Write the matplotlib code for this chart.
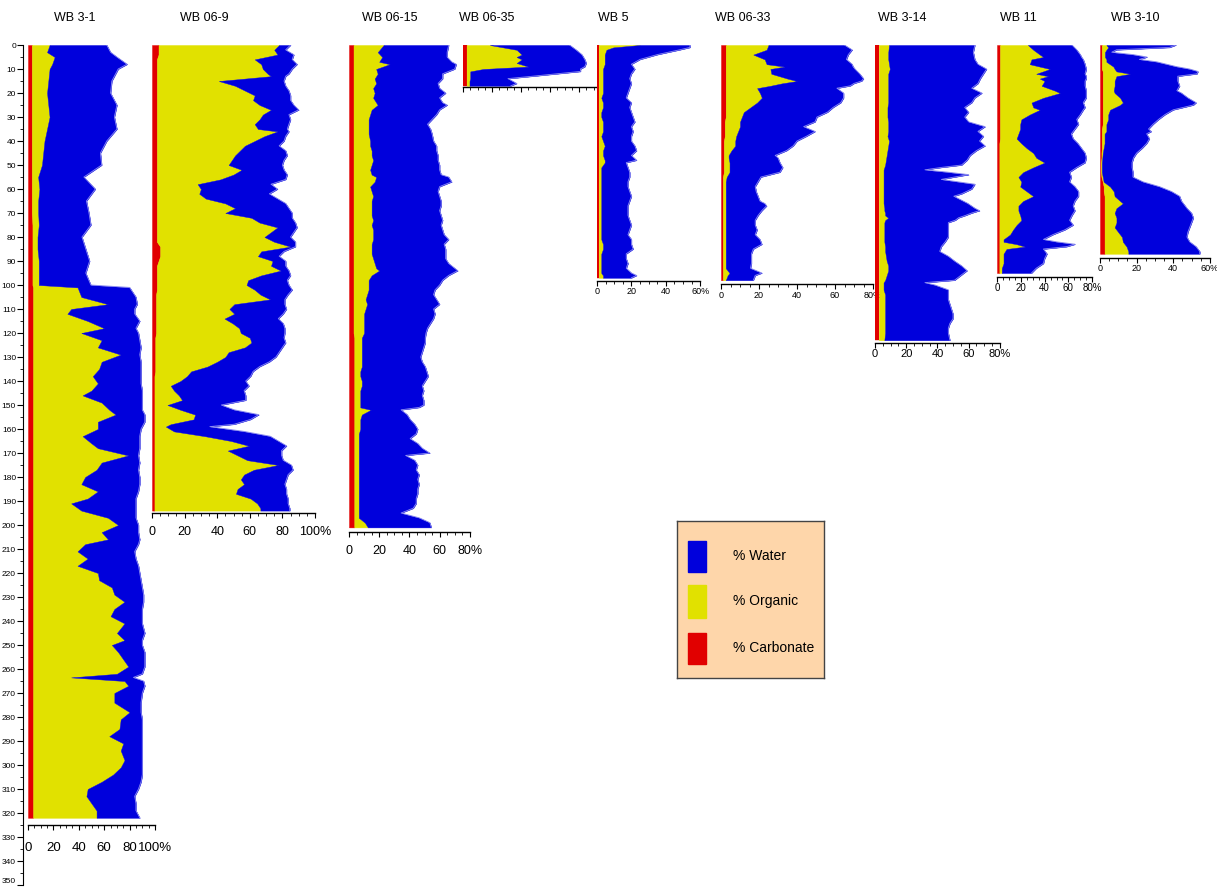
import numpy as np
import matplotlib
matplotlib.use("Agg")
import matplotlib.pyplot as plt
from matplotlib.patches import Rectangle
from matplotlib.transforms import ScaledTranslation

plt.rcParams['font.family'] = ['Liberation Sans', 'DejaVu Sans']

W, H = 1217, 888
BLUE = '#0000dc'
YELLOW = '#e1e100'
RED = '#e10000'
RIM = '#8c8cf0'
PEACH = '#fed6aa'

# ---- core data: depth (cm), % carbonate, % organic, % water ----
wb31_depth = [0, 3, 5, 8, 10, 15, 20, 25, 30, 35,
              40, 45, 50, 55, 60, 65, 70, 75, 80, 85,
              90, 95, 100, 101, 105, 108, 110, 112, 115, 118,
              120, 123, 126, 129, 132, 135, 138, 141, 144, 146,
              149, 152, 154, 157, 160, 163, 166, 168, 171, 174,
              177, 180, 183, 186, 189, 191, 194, 197, 200, 203,
              206, 208, 211, 214, 217, 220, 223, 226, 229, 232,
              235, 238, 241, 245, 248, 250, 253, 256, 259, 262,
              263.5, 265, 267, 270, 274, 278, 281, 285, 288, 291,
              294, 298, 301, 304, 307, 310, 313, 316, 319, 322]
wb31_carb = [3, 3, 3, 3, 3, 3, 3, 3, 3, 3,
             3, 3, 3, 3, 3, 3, 3, 3.5, 3.5, 3.5,
             3.5, 3.5, 3.5, 4, 4, 4, 4, 4, 4, 4,
             4, 4, 4, 4, 4, 4, 4, 4, 4, 4,
             4, 4, 4, 4, 4, 4, 4, 4, 4, 4,
             4, 4, 4, 4, 4, 4, 4, 4, 4, 4,
             4, 4, 4, 4, 4, 4, 4, 4, 4, 4,
             4, 4, 4, 4, 4, 4, 4, 4, 4, 4,
             4, 4, 4, 4, 4, 4, 4, 4, 4, 4,
             4, 4, 4, 4, 4, 4, 4, 4, 4, 4]
wb31_org = [14, 12, 18, 16, 14, 13, 12, 13, 14, 12,
            10, 9, 8, 5, 6, 5, 5, 5, 4, 4,
            5, 5, 5, 35, 38, 59, 30, 27, 43, 56,
            38, 54, 51, 69, 54, 52, 47, 51, 46, 39,
            54, 60, 65, 51, 51, 39, 46, 51, 75, 54,
            50, 41, 38, 51, 43, 30, 38, 59, 67, 54,
            59, 41, 35, 43, 35, 51, 52, 62, 64, 72,
            64, 61, 72, 66, 72, 62, 67, 71, 75, 66,
            30, 72, 75, 64, 64, 76, 69, 68, 60, 71,
            69, 72, 69, 63, 54, 43, 42, 46, 50, 50]
wb31_water = [45, 50, 49, 59, 54, 50, 50, 54, 51, 55,
              49, 45, 47, 36, 44, 38, 40, 41, 35, 38,
              40, 37, 41, 41, 43, 23, 50, 53, 41, 25,
              45, 30, 34, 15, 31, 33, 38, 34, 40, 47,
              32, 26, 23, 37, 34, 45, 38, 33, 8, 30,
              33, 43, 46, 32, 38, 51, 43, 22, 16, 29,
              25, 42, 45, 38, 48, 33, 33, 24, 23, 15,
              22, 25, 14, 22, 14, 24, 21, 17, 13, 20,
              49, 15, 13, 22, 21, 9, 17, 18, 26, 15,
              17, 14, 17, 23, 31, 40, 38, 35, 31, 34]

wb069_depth = [0, 2, 4, 6, 8, 10, 12, 13, 15, 17,
               19, 21, 23, 25, 27, 29, 31, 33, 35, 36,
               38, 40, 42, 44, 46, 48, 50, 52, 54, 56,
               58, 60, 62, 64, 66, 68, 70, 72, 74, 76,
               78, 80, 82, 84, 86, 88, 90, 92, 94, 96,
               98, 100, 102, 104, 106, 108, 110, 112, 114, 116,
               118, 120, 122, 124, 126, 128, 130, 132, 134, 136,
               138, 140, 142, 144, 146, 148, 150, 152, 154, 156,
               158, 159, 161, 163, 165, 167, 169, 171, 173, 175,
               177, 179, 181, 183, 185, 187, 189, 191, 193, 194]
wb069_carb = [4, 4, 4, 3, 3, 3, 3, 3, 3, 3,
              3, 3, 3, 3, 3, 3, 3, 3, 3, 3,
              3, 3, 3, 3, 3, 3, 3, 3, 3, 3,
              3, 3, 3, 3, 3, 3, 3, 3, 3, 3,
              3, 3, 3, 5, 5, 5, 4, 3, 3, 3,
              3, 3, 3, 2.5, 2.5, 2.5, 2.5, 2.5, 2.5, 2.5,
              2.5, 2.5, 2, 2, 2, 2, 2, 2, 2, 2,
              1.5, 1.5, 1.5, 1.5, 1.5, 1.5, 1.5, 1.5, 1.5, 1.5,
              1.5, 1.5, 1.5, 1.5, 1.5, 1.5, 1.5, 1.5, 1.5, 1.5,
              1.5, 1.5, 1.5, 1.5, 1.5, 1.5, 1.5, 1.5, 1.5, 1.5]
wb069_org = [74, 71, 73, 60, 64, 65, 68, 70, 38, 48,
             54, 60, 59, 63, 70, 65, 63, 60, 62, 74,
             66, 60, 54, 51, 48, 46, 44, 52, 47, 39,
             25, 27, 26, 30, 42, 48, 42, 58, 63, 74,
             70, 66, 72, 80, 62, 60, 70, 70, 76, 64,
             56, 55, 60, 64, 70, 48, 45, 48, 42, 47,
             51, 52, 58, 59, 55, 45, 43, 38, 32, 22,
             20, 16, 10, 12, 15, 17, 8, 16, 25, 24,
             10, 7, 12, 31, 47, 58, 45, 51, 57, 76,
             61, 55, 53, 55, 51, 50, 59, 63, 65, 65]
wb069_water = [7, 7, 10, 23, 22, 18, 13, 9, 40, 31,
               27, 22, 23, 21, 17, 16, 19, 21, 18, 7,
               13, 18, 21, 28, 32, 32, 33, 26, 33, 40,
               45, 47, 43, 44, 37, 33, 41, 25, 22, 12,
               14, 16, 13, 3, 14, 13, 8, 9, 5, 18,
               24, 26, 23, 17, 9, 31, 35, 30, 33, 31,
               28, 27, 21, 21, 23, 31, 31, 32, 32, 38,
               39, 40, 48, 43, 41, 39, 33, 33, 39, 35,
               39, 27, 43, 40, 29, 23, 33, 27, 22, 8,
               24, 27, 28, 25, 30, 31, 23, 19, 18, 18]

wb0615_depth = [0, 3, 5, 7, 8, 10, 12, 14, 16, 18,
                20, 22, 24, 25, 27, 29, 31, 33, 35, 37,
                40, 42, 44, 46, 48, 50, 52, 54, 55, 57,
                59, 61, 63, 65, 67, 69, 71, 73, 75, 77,
                79, 81, 83, 85, 87, 89, 91, 93, 94, 96,
                98, 100, 102, 104, 106, 108, 110, 112, 114, 116,
                118, 120, 122, 124, 126, 128, 130, 132, 134, 136,
                138, 140, 142, 144, 146, 148, 150, 151, 152, 154,
                156, 158, 160, 162, 164, 166, 168, 170, 171, 173,
                175, 177, 179, 181, 183, 185, 187, 189, 191, 193,
                195, 197, 199, 201]
wb0615_carb = [3, 3, 3, 3, 3, 3, 3, 3, 3, 3,
               3, 3, 3, 3, 3, 3, 3, 3, 3, 3,
               3, 3, 3, 3, 3, 3, 3, 3, 3, 3,
               3, 3, 3, 3, 3, 3, 3, 3, 3, 3,
               3, 3, 3, 3, 3, 3, 3, 3, 3, 3,
               3, 3, 3, 3, 3, 3, 3, 3, 3, 3,
               3, 3, 3.5, 3.5, 3.5, 3.5, 3.5, 3.5, 3.5, 3.5,
               3.5, 3.5, 3.5, 3.5, 3.5, 3.5, 3.5, 3.5, 3.5, 3.5,
               3.5, 3.5, 3.5, 3.5, 3.5, 3.5, 3.5, 3.5, 3.5, 3.5,
               3.5, 3.5, 3.5, 3.5, 3.5, 3.5, 3.5, 3.5, 3.5, 3.5,
               3.5, 3.5, 3.5, 3.5]
wb0615_org = [20, 16, 19, 17, 24, 15, 16, 14, 15, 13,
              14, 13, 15, 16, 12, 11, 10, 10, 10, 10,
              11, 11, 12, 12, 13, 12, 11, 12, 15, 14,
              11, 12, 13, 12, 12, 12, 12, 13, 12, 13,
              13, 13, 12, 12, 12, 13, 14, 15, 17, 12,
              10, 10, 10, 9, 8, 9, 8, 7, 7, 7,
              7, 7, 5, 5, 5, 5, 5, 5, 5, 4,
              4, 5, 5, 4, 4, 4, 4, 4, 11, 5,
              4, 4, 4, 3, 3, 3, 3, 3, 3, 3,
              3, 3, 3, 3, 3, 3, 3, 3, 3, 3,
              3, 3, 7, 9]
wb0615_water = [43, 46, 43, 48, 44, 52, 43, 45, 41, 44,
                47, 44, 44, 46, 45, 44, 42, 39, 41, 42,
                42, 44, 43, 44, 43, 45, 46, 46, 48, 51,
                46, 44, 44, 46, 46, 45, 46, 46, 46, 46,
                47, 50, 48, 49, 49, 48, 49, 52, 52, 51,
                49, 47, 44, 44, 47, 48, 45, 47, 46, 44,
                42, 41, 42, 42, 41, 40, 39, 40, 42, 44,
                45, 42, 40, 42, 41, 42, 42, 39, 20, 30,
                33, 36, 38, 38, 34, 39, 42, 47, 31, 37,
                39, 38, 40, 39, 40, 39, 39, 38, 38, 36,
                28, 40, 43, 42]

wb0635_depth = [0, 2, 4, 5, 6, 7.5, 9, 10, 11, 13, 14, 15, 16, 17]
wb0635_carb = [2.5, 2.5, 2.5, 2.5, 2.5, 2.5, 2.5, 2.5, 2.5, 2.5, 2.5, 2.5, 2.5, 2.5]
wb0635_org = [16, 34.5, 38, 34.5, 38, 34.5, 42.5, 11.5, 2.5, 2.5, 2.5, 2, 2, 2]
wb0635_water = [55, 41, 41.5, 46, 43.5, 48, 39, 67, 76, 43, 26, 29.5, 32.5, 28.5]

wb5_depth = [0, 1, 2, 4, 6, 8, 10, 12, 14, 16,
             18, 20, 22, 24, 26, 28, 30, 32, 34, 36,
             38, 40, 42, 44, 46, 48, 49, 51, 53, 55,
             57, 59, 61, 63, 65, 67, 69, 71, 73, 75,
             77, 79, 81, 83, 85, 87, 89, 91, 93, 95,
             96, 97]
wb5_carb = [1, 1, 1, 1, 1, 1, 1, 1, 1, 1,
            1, 1, 1, 1, 1, 1, 1, 1, 1, 1,
            1, 1, 1, 1, 1, 1, 1, 1, 1, 1,
            1, 1, 1, 1, 1, 1, 1, 1, 1, 1,
            1, 1, 1, 1, 1, 1, 1, 1, 1, 1,
            1, 1]
wb5_org = [24, 8.5, 4.5, 3.5, 3.5, 3.5, 2.5, 2.5, 2.5, 2.5,
           2.5, 2.5, 1.5, 2.5, 2.5, 1.5, 1.5, 2.5, 2.5, 2.5,
           1.5, 2.5, 3.5, 2.5, 2.5, 3.5, 3.5, 1.5, 1.5, 1.5,
           1.5, 1.5, 1.5, 1.5, 1.5, 1.5, 1.5, 1.5, 1.5, 1.5,
           1.5, 1.5, 1.5, 2.5, 2.5, 1.5, 1.5, 1.5, 1.5, 1.5,
           2.5, 2.5]
wb5_water = [29, 44.5, 42.5, 30.5, 20.5, 15.5, 18.5, 16.5, 15.5, 16.5,
             15.5, 14.5, 14.5, 16.5, 15.5, 17.5, 18.5, 18.5, 16.5, 17.5,
             17.5, 16.5, 17.5, 19.5, 16.5, 18.5, 12.5, 15.5, 16.5, 16.5,
             15.5, 15.5, 16.5, 17.5, 16.5, 15.5, 15.5, 15.5, 16.5, 17.5,
             16.5, 15.5, 17.5, 16.5, 17.5, 14.5, 14.5, 15.5, 14.5, 17.5,
             19.5, 16.5]

wb0633_depth = [0, 2, 4, 6, 8, 9, 10, 12, 14, 15,
                16, 17, 18, 20, 22, 24, 26, 28, 30, 32,
                34, 36, 38, 40, 42, 44, 46, 47, 49, 51,
                53, 55, 57, 59, 61, 63, 65, 66, 67, 69,
                71, 73, 75, 77, 79, 81, 83, 85, 87, 89,
                91, 93, 95, 96, 98]
wb0633_carb = [2.5, 2.5, 2.5, 2.5, 2.5, 2.5, 2.5, 2.5, 2.5, 2.5,
               2.5, 2.5, 2.5, 2.5, 2.5, 2.5, 2.5, 2.5, 2.5, 2,
               2, 2, 2, 1.5, 1.5, 1.5, 1.5, 1.5, 1.5, 1.5,
               1.5, 1, 1, 1, 1, 1, 1, 1, 1, 1,
               1, 1, 1, 1, 1, 1, 1, 1, 1, 1,
               1, 1, 1, 1, 1]
wb0633_org = [22.5, 21.5, 14.5, 20.5, 21.5, 31, 23.5, 24, 32.5, 37.5,
              29.5, 23.5, 16.5, 18, 19, 16.5, 13, 9.5, 8.5, 8,
              8, 7, 6, 6, 6, 4, 2.5, 2.5, 3, 3,
              3, 2, 1.5, 1.5, 1.5, 1.5, 1.5, 1.5, 1.5, 1.5,
              1.5, 1.5, 1.5, 1.5, 1.5, 1.5, 1.5, 1.5, 1.5, 1.5,
              1.5, 1.5, 3.5, 2.5, 1.5]
wb0633_water = [40, 45, 50, 43, 45, 36, 44.5, 46.5, 40, 34,
                38, 42, 42, 44, 43, 44, 43.5, 44, 39.5, 39.5,
                33.5, 40.5, 37, 32.5, 30.5, 29, 24.5, 26, 26.5, 28,
                26.5, 18, 17, 15.5, 16, 17, 18, 20.5, 21.5, 19,
                17, 15.5, 15.5, 16.5, 15.5, 18, 19, 14.5, 13.5, 13.5,
                13.5, 13, 17, 14.5, 14.5]

wb314_depth = [0, 3, 6, 8, 10, 12, 14, 16, 18, 20,
               22, 24, 26, 28, 30, 32, 34, 36, 38, 40,
               42, 44, 46, 48, 50, 51, 52, 53, 54, 55,
               56, 58, 60, 62, 63, 64, 66, 68, 69, 70,
               71, 72, 73, 74, 76, 78, 80, 82, 84, 86,
               88, 90, 92, 94, 96, 98, 99, 100, 102, 104,
               106, 108, 110, 112, 114, 116, 118, 120, 123]
wb314_carb = [2.5, 2.5, 2.5, 2.5, 2.5, 2.5, 2.5, 2.5, 2.5, 2.5,
              2.5, 2.5, 2.5, 2.5, 2.5, 2.5, 2.5, 2.5, 2.5, 2.5,
              2.5, 2.5, 2.5, 2.5, 2.5, 2.5, 2.5, 2.5, 2.5, 2.5,
              2.5, 2.5, 2.5, 2.5, 2.5, 2.5, 2.5, 2.5, 2.5, 2.5,
              2.5, 2.5, 2.5, 2.5, 2.5, 2.5, 2.5, 2.5, 2.5, 2.5,
              2.5, 2.5, 2.5, 2.5, 2.5, 2.5, 2.5, 2.5, 2.5, 2.5,
              2.5, 2.5, 2.5, 2.5, 2.5, 2.5, 2.5, 2.5, 2.5]
wb314_org = [6.5, 6, 6, 6.5, 7, 6, 6, 6, 6, 6,
             6, 6, 5.5, 5.5, 5.5, 6, 6, 6, 5.5, 6.5,
             6, 5.5, 5, 4.5, 4, 3.5, 3, 3, 3, 3,
             3, 3, 3, 3, 3, 3, 3, 3.5, 3.5, 4,
             4, 6, 4, 3.5, 3.5, 3.5, 3.5, 3.5, 4, 4,
             4.5, 5, 6, 6, 5, 4, 3, 3, 3, 4,
             4, 4, 4, 4, 4, 4, 4, 4, 3.5]
wb314_water = [55, 54.5, 55.5, 57, 62, 61, 59, 57.5, 53.5, 60,
               55.5, 53.5, 49.5, 52, 49.5, 51.5, 62, 57.5, 61.5, 58,
               62, 57, 53.5, 52, 49, 36.5, 26.5, 41.5, 54.5, 45.5,
               37, 58.5, 56.5, 50, 45, 48, 54, 58, 61, 55.5,
               51.5, 45, 45, 41, 41, 41, 41, 39, 36, 35,
               40, 43.5, 47, 50.5, 47.5, 44.5, 26.5, 33, 41.5, 40.5,
               40.5, 41.5, 42.5, 43.5, 43.5, 41.5, 40.5, 40.5, 42]

wb11_depth = [0, 2, 4, 5, 6, 8, 10, 12, 13, 14,
              15, 17, 19, 20, 22, 24, 26, 27, 29, 31,
              33, 35, 37, 39, 41, 43, 45, 47, 49, 51,
              53, 55, 57, 59, 61, 63, 65, 67, 69, 71,
              73, 75, 77, 79, 81, 82, 83, 84, 85, 87,
              89, 91, 93, 95]
wb11_carb = [2.5, 2.5, 2.5, 2.5, 2.5, 2.5, 2.5, 2.5, 2.5, 2.5,
             2.5, 2.5, 2.5, 2.5, 2.5, 2.5, 2.5, 2.5, 2.5, 2.5,
             2.5, 2.5, 2.5, 2.5, 2, 2, 2, 2, 2, 2,
             2, 2, 2, 2, 2, 2, 2, 2, 2, 2,
             2, 2, 2, 2, 2, 2, 2, 2, 2, 2,
             2, 2, 2, 2]
wb11_org = [23.5, 28, 33.5, 36.5, 26.5, 25, 42, 30.5, 40.5, 33.5,
            37.5, 35, 46, 50.5, 36.5, 26.5, 28, 33.5, 25, 18,
            17, 17, 15.5, 14, 18.5, 23, 28.5, 31, 38, 28.5,
            20, 16, 18.5, 17.5, 23, 28.5, 20, 16, 16, 17.5,
            18.5, 14.5, 11.5, 9, 3.5, 3.5, 14.5, 21.5, 6, 3.5,
            3.5, 3.5, 2, 2]
wb11_water = [37, 36.5, 34, 32, 43.5, 46.5, 30.5, 41, 32, 39,
              34, 36.5, 26.5, 22, 36, 43.5, 43.5, 36.5, 42.5, 46.5,
              49, 46, 44.5, 47.5, 47.5, 46, 43.5, 42, 34, 36.5,
              39, 44.5, 40.5, 46, 43.5, 38, 43.5, 46, 47.5, 43.5,
              40.5, 47.5, 43.5, 36, 33.5, 44.5, 49, 35, 31, 36.5,
              34.5, 33.5, 29, 25]

wb310_depth = [0, 1, 2, 3, 4, 5, 6, 7, 9, 10,
               11, 12, 13, 15, 17, 19, 20, 22, 24, 25,
               27, 29, 31, 33, 35, 36, 37, 39, 41, 43,
               45, 47, 49, 51, 53, 55, 57, 59, 61, 63,
               65, 66, 68, 70, 72, 74, 76, 78, 80, 82,
               84, 86, 87]
wb310_carb = [1, 1, 1, 1, 1, 1, 1, 1, 1, 1,
              1.5, 1.5, 1.5, 1.5, 1.5, 1.5, 1.5, 1.5, 1.5, 1.5,
              1.5, 1.5, 1.5, 1.5, 1, 1, 1, 1, 1, 1,
              0.8, 0.8, 0.5, 0.5, 0.5, 0.8, 1.5, 2, 2, 2.5,
              2.5, 2.5, 2.5, 2.5, 2.5, 2.5, 2.5, 2.5, 2.5, 2.5,
              2.5, 2.5, 2.5]
wb310_org = [2.5, 3.5, 2.5, 1.7, 1.7, 1.7, 2.5, 2.5, 6.3, 7,
             7.5, 15, 7.5, 6.5, 6.5, 6, 6.5, 9.5, 11, 9.5,
             4, 3, 3, 2, 2.5, 2.5, 1.5, 1.5, 1.5, 1,
             0.7, 0.5, 0.5, 0.5, 0.5, 0.7, 0.5, 3.5, 5.5, 5.5,
             8.5, 10, 6.5, 5.5, 6.5, 6.5, 5.5, 7.5, 9.5, 10,
             12, 13, 13]
wb310_water = [38, 33.5, 5.5, 3.7, 15.5, 23, 18, 27.5, 34.5, 41,
               44.5, 36.5, 33.5, 34.5, 35.5, 34.5, 36.5, 37, 40, 40,
               34.5, 31, 27.5, 25.5, 23, 24.5, 23, 24.5, 23, 21,
               18.5, 17, 16.5, 16.5, 17, 16.5, 21.5, 27, 31.5, 35.5,
               33.5, 33, 38.5, 42, 42, 41, 41, 38, 35.5, 36.5,
               38, 39, 39]

# ---- layout (pixels) ----
TOP = 45          # row of depth 0
PX_PER_CM = 2.4

fig = plt.figure(figsize=(W / 100, H / 100), dpi=100)


def pixel_axes(left, top, width, height):
    return fig.add_axes([left / W, 1 - (top + height) / H, width / W, height / H])


def draw_core(ax, depth, carb, org, water):
    d = np.asarray(depth, float)
    c = np.asarray(carb, float)
    o = c + np.asarray(org, float)
    w = o + np.asarray(water, float)
    for lo, hi, col in ((np.zeros_like(c), c, RED), (c, o, YELLOW), (o, w, BLUE)):
        ax.fill_betweenx(d, lo, hi, facecolor=col, edgecolor=col, lw=0.3)
    ax.plot(w, d, color=RIM, lw=0.6)


# name, title x, data, x of 0 %, px per %, axis max, axis row, label step, font size, label pad
cores = [
    ("WB 3-1", 75, (wb31_depth, wb31_carb, wb31_org, wb31_water), 28, 1.27, 100, 825, 20, 9.5, 9),
    ("WB 06-9", 204, (wb069_depth, wb069_carb, wb069_org, wb069_water), 152, 1.63, 100, 513, 20, 9, 6),
    ("WB 06-15", 390, (wb0615_depth, wb0615_carb, wb0615_org, wb0615_water), 349, 1.51, 80, 532, 20, 9, 6),
    ("WB 06-35", 487, (wb0635_depth, wb0635_carb, wb0635_org, wb0635_water), 463, 1.45, 92, 87, None, 7, 1),
    ("WB 5", 613, (wb5_depth, wb5_carb, wb5_org, wb5_water), 597, 1.72, 60, 281, 20, 6.5, 1),
    ("WB 06-33", 743, (wb0633_depth, wb0633_carb, wb0633_org, wb0633_water), 721, 1.9, 80, 284, 20, 6.5, 1.5),
    ("WB 3-14", 902, (wb314_depth, wb314_carb, wb314_org, wb314_water), 875, 1.56, 80, 343, 20, 8, 0.5),
    ("WB 11", 1018, (wb11_depth, wb11_carb, wb11_org, wb11_water), 997, 1.19, 80, 277, 20, 7, 0.5),
    ("WB 3-10", 1135, (wb310_depth, wb310_carb, wb310_org, wb310_water), 1100, 1.83, 60, 258, 20, 6.5, 1),
]

for name, tx, data, x0, ppp, xmax, axis_y, step, fs, pad in cores:
    ax = pixel_axes(x0, TOP, xmax * ppp, axis_y - TOP)
    draw_core(ax, *data)
    ax.set_xlim(0, xmax)
    ax.set_ylim((axis_y - TOP) / PX_PER_CM, 0)
    ax.patch.set_alpha(0)
    for side in ('top', 'right', 'left'):
        ax.spines[side].set_visible(False)
    ax.spines['bottom'].set_linewidth(1.0)
    ax.set_yticks([])
    ax.set_xticks(np.arange(0, xmax + 0.1, 5), minor=True)
    if step:
        majors = list(range(0, int(xmax) + 1, step))
        labels = [str(v) for v in majors]
        labels[-1] += '%'
        ax.set_xticks(majors)
        ax.set_xticklabels(labels, fontsize=fs)
        last = ax.get_xticklabels()[-1]
        last.set_transform(last.get_transform() +
                           ScaledTranslation(fs * 0.4 / 72, 0, fig.dpi_scale_trans))
    else:
        ax.set_xticks(range(0, 81, 20))
        ax.set_xticklabels([])
    ax.tick_params(axis='x', which='major', direction='out', length=3.5, width=0.8, pad=pad)
    ax.tick_params(axis='x', which='minor', direction='out', length=2, width=0.6)
    fig.text(tx / W, 1 - 18 / H, name, ha='center', va='center', fontsize=9)

# depth scale along the left edge
dax = pixel_axes(23, TOP, 1, 350 * PX_PER_CM)
dax.set_ylim(350, 0)
dax.set_xticks([])
dax.patch.set_alpha(0)
for side in ('top', 'right', 'bottom'):
    dax.spines[side].set_visible(False)
dax.spines['left'].set_linewidth(0.8)
dax.set_yticks(range(0, 351, 10))
dax.set_yticks(range(5, 351, 10), minor=True)
dax.tick_params(axis='y', which='major', length=4, width=0.8, pad=1, labelsize=6)
dax.tick_params(axis='y', which='minor', length=2, width=0.6)
dax.get_yticklabels()[-1].set_verticalalignment('bottom')

# legend box
lax = pixel_axes(677, 521, 147, 157)
lax.set_xlim(0, 147)
lax.set_ylim(157, 0)
lax.set_facecolor(PEACH)
lax.set_xticks([])
lax.set_yticks([])
for sp in lax.spines.values():
    sp.set_color('#444444')
    sp.set_linewidth(1.0)
for (y, hgt, col, txt) in ((20, 31, BLUE, '% Water'),
                           (64, 33, YELLOW, '% Organic'),
                           (112, 31, RED, '% Carbonate')):
    lax.add_patch(Rectangle((11, y), 18, hgt, facecolor=col, edgecolor=col))
    lax.text(56, y + hgt / 2, txt, fontsize=10, va='center', ha='left')

fig.savefig('out.png', dpi=100)
